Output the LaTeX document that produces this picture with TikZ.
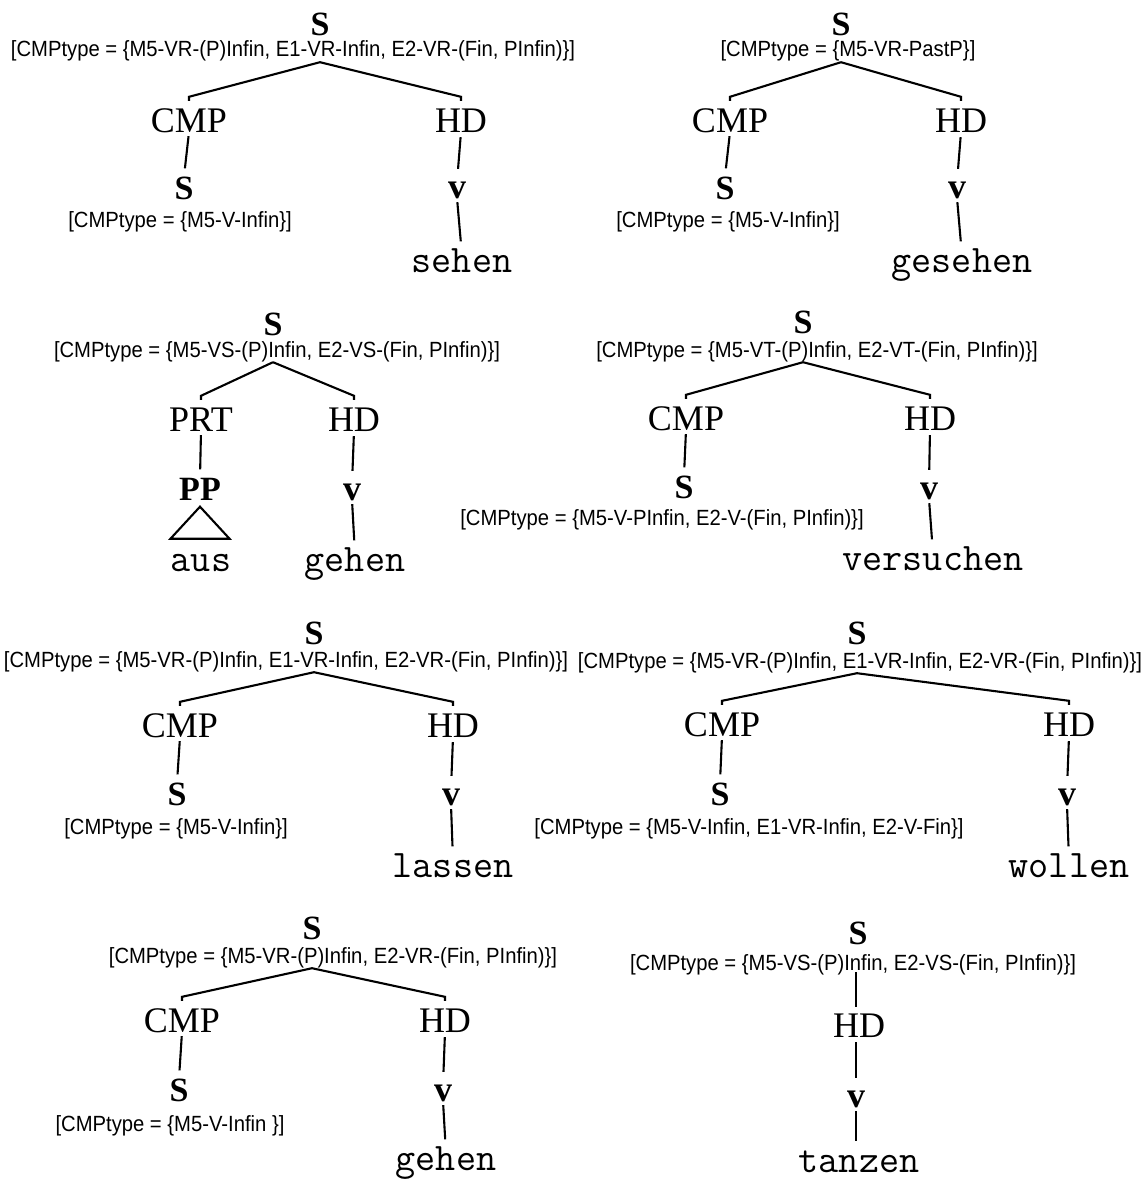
\documentclass[tikz,border=0pt]{standalone}
\usepackage{fontspec}
\setmainfont{Liberation Serif}
\newfontfamily\labfont[FakeStretch=0.92]{Liberation Sans}
\usetikzlibrary{calc}
\newcommand\branchto[2]{\draw[ln] (#1) -- ([yshift=11pt]#2.north) -- ([yshift=7pt]#2.north);}
\begin{document}
\begin{tikzpicture}[x=1pt,y=-1pt,
  cat/.style={font=\fontsize{36}{40}\selectfont, inner sep=0pt, text height=24pt, text depth=0pt},
  bcat/.style={font=\fontsize{34}{38}\selectfont\bfseries, inner sep=0pt, text height=23pt, text depth=0pt},
  vcat/.style={font=\fontsize{36}{40}\selectfont\bfseries, inner sep=0pt, text height=16pt, text depth=0pt},
  feat/.style={font=\labfont\fontsize{22}{24}\selectfont, inner sep=0pt, text height=16pt, text depth=0pt},
  word/.style={font=\ttfamily\fontsize{39}{42}\selectfont, inner sep=0pt, text height=17pt, text depth=0pt},
  ln/.style={line width=2.1pt},
  dn/.style={ln, shorten <=4pt, shorten >=8pt},
  dv/.style={ln, shorten <=5pt, shorten >=13pt},
  dw/.style={ln, shorten <=4pt, shorten >=14pt}]
\useasboundingbox (0,0) rectangle (1142,1180);

% ---------- tree 1
\node[bcat] (S1) at (320,24) {S};
\node[feat] (L1) at (293,49) {[CMPtype = \{M5-VR-(P)Infin, E1-VR-Infin, E2-VR-(Fin, PInfin)\}]};
\node[cat] (C1) at (189,120) {CMP};
\node[cat] (H1) at (461,120) {HD};
\node[bcat] (S1b) at (184,188) {S};
\node[feat] (L1b) at (180,219) {[CMPtype = \{M5-V-Infin\}]};
\node[vcat] (V1) at (457,190) {v};
\node[word] (W1) at (462,264) {sehen};
\coordinate (A1) at ($(L1.south -| S1)+(0,5)$);
\branchto{A1}{C1}\branchto{A1}{H1}
\draw[dn] (C1.south) -- (S1b.north);
\draw[dv] (H1.south) -- (V1.north);
\draw[dw] (V1.south) -- (W1.north);

% ---------- tree 2
\node[bcat] (S2) at (841,24) {S};
\node[feat] (L2) at (848,49) {[CMPtype = \{M5-VR-PastP\}]};
\node[cat] (C2) at (730,120) {CMP};
\node[cat] (H2) at (961,120) {HD};
\node[bcat] (S2b) at (725,188) {S};
\node[feat] (L2b) at (728,219) {[CMPtype = \{M5-V-Infin\}]};
\node[vcat] (V2) at (957,190) {v};
\node[word] (W2) at (962,264) {gesehen};
\coordinate (A2) at ($(L2.south -| S2)+(0,5)$);
\branchto{A2}{C2}\branchto{A2}{H2}
\draw[dn] (C2.south) -- (S2b.north);
\draw[dv] (H2.south) -- (V2.north);
\draw[dw] (V2.south) -- (W2.north);

% ---------- tree 3
\node[bcat] (S3) at (273,324) {S};
\node[feat] (L3) at (277,349) {[CMPtype = \{M5-VS-(P)Infin, E2-VS-(Fin, PInfin)\}]};
\node[cat] (P3) at (201,419) {PRT};
\node[cat] (H3) at (354,419) {HD};
\node[bcat] (PP3) at (200,489) {PP};
\node[vcat] (V3) at (352,492) {v};
\node[word] (W3a) at (201,563) {aus};
\node[word] (W3) at (355,563) {gehen};
\coordinate (A3) at ($(L3.south -| S3)+(0,5)$);
\branchto{A3}{P3}\branchto{A3}{H3}
\draw[dn] (P3.south) -- (PP3.north);
\coordinate (T3) at ($(PP3.south)+(0,6)$);
\draw[ln, line join=miter] (T3) -- ++(-29.5,32) -- ++(59,0) -- cycle;
\draw[dv] (H3.south) -- (V3.north);
\draw[dw] (V3.south) -- (W3.north);

% ---------- tree 4
\node[bcat] (S4) at (803,322) {S};
\node[feat] (L4) at (817,349) {[CMPtype = \{M5-VT-(P)Infin, E2-VT-(Fin, PInfin)\}]};
\node[cat] (C4) at (686,418) {CMP};
\node[cat] (H4) at (930,418) {HD};
\node[bcat] (S4b) at (684,487) {S};
\node[feat] (L4b) at (662,517) {[CMPtype = \{M5-V-PInfin, E2-V-(Fin, PInfin)\}]};
\node[vcat] (V4) at (929,491) {v};
\node[word] (W4) at (933,562) {versuchen};
\coordinate (A4) at ($(L4.south -| S4)+(0,5)$);
\branchto{A4}{C4}\branchto{A4}{H4}
\draw[dn] (C4.south) -- (S4b.north);
\draw[dv] (H4.south) -- (V4.north);
\draw[dw] (V4.south) -- (W4.north);

% ---------- tree 5
\node[bcat] (S5) at (314,633) {S};
\node[feat] (L5) at (286,659) {[CMPtype = \{M5-VR-(P)Infin, E1-VR-Infin, E2-VR-(Fin, PInfin)\}]};
\node[cat] (C5) at (180,725) {CMP};
\node[cat] (H5) at (453,725) {HD};
\node[bcat] (S5b) at (177,794) {S};
\node[feat] (L5b) at (176,826) {[CMPtype = \{M5-V-Infin\}]};
\node[vcat] (V5) at (451,797) {v};
\node[word] (W5) at (453,869) {lassen};
\coordinate (A5) at ($(L5.south -| S5)+(0,5)$);
\branchto{A5}{C5}\branchto{A5}{H5}
\draw[dn] (C5.south) -- (S5b.north);
\draw[dv] (H5.south) -- (V5.north);
\draw[dw] (V5.south) -- (W5.north);

% ---------- tree 6
\node[bcat] (S6) at (857,633) {S};
\node[feat] (L6) at (860,660) {[CMPtype = \{M5-VR-(P)Infin, E1-VR-Infin, E2-VR-(Fin, PInfin)\}]};
\node[cat] (C6) at (722,724) {CMP};
\node[cat] (H6) at (1069,724) {HD};
\node[bcat] (S6b) at (720,794) {S};
\node[feat] (L6b) at (749,826) {[CMPtype = \{M5-V-Infin, E1-VR-Infin, E2-V-Fin\}]};
\node[vcat] (V6) at (1067,797) {v};
\node[word] (W6) at (1069,869) {wollen};
\coordinate (A6) at ($(L6.south -| S6)+(0,5)$);
\branchto{A6}{C6}\branchto{A6}{H6}
\draw[dn] (C6.south) -- (S6b.north);
\draw[dv] (H6.south) -- (V6.north);
\draw[dw] (V6.south) -- (W6.north);

% ---------- tree 7
\node[bcat] (S7) at (312,928) {S};
\node[feat] (L7) at (333,955) {[CMPtype = \{M5-VR-(P)Infin, E2-VR-(Fin, PInfin)\}]};
\node[cat] (C7) at (182,1020) {CMP};
\node[cat] (H7) at (445,1020) {HD};
\node[bcat] (S7b) at (179,1090) {S};
\node[feat] (L7b) at (170,1123) {[CMPtype = \{M5-V-Infin \}]};
\node[vcat] (V7) at (443,1093) {v};
\node[word] (W7) at (446,1162) {gehen};
\coordinate (A7) at ($(L7.south -| S7)+(0,5)$);
\branchto{A7}{C7}\branchto{A7}{H7}
\draw[dn] (C7.south) -- (S7b.north);
\draw[dv] (H7.south) -- (V7.north);
\draw[dw] (V7.south) -- (W7.north);

% ---------- tree 8
\node[bcat] (S8) at (858,933) {S};
\node[feat] (L8) at (853,962) {[CMPtype = \{M5-VS-(P)Infin, E2-VS-(Fin, PInfin)\}]};
\node[cat] (H8) at (859,1025) {HD};
\node[vcat] (V8) at (856,1099) {v};
\node[word] (W8) at (859,1164) {tanzen};
\draw[ln, shorten <=2pt, shorten >=6pt] (L8.south -| V8) -- (H8.north -| V8);
\draw[dv] (H8.south -| V8) -- (V8.north);
\draw[dw] (V8.south) -- (W8.north -| V8);
\end{tikzpicture}
\end{document}
